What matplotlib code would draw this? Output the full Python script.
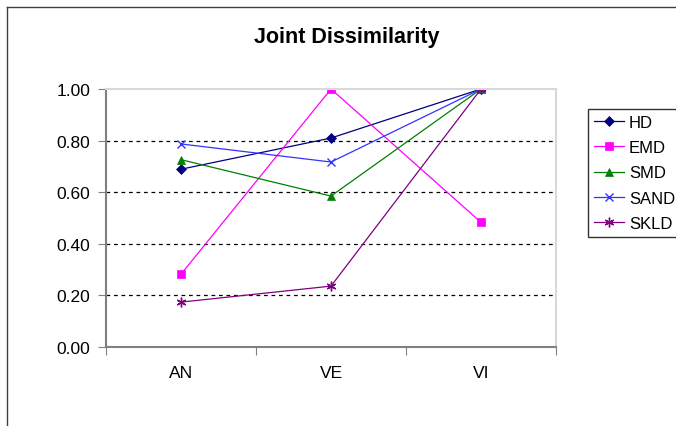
import numpy as np
import matplotlib.pyplot as plt
from matplotlib.lines import Line2D

plt.rcParams['font.family'] = ['Liberation Sans', 'DejaVu Sans']

categories = ["AN", "VE", "VI"]
hd = [0.689, 0.810, 1.00]
emd = [0.282, 1.00, 0.483]
smd = [0.726, 0.585, 1.00]
sand = [0.787, 0.717, 1.00]
skld = [0.174, 0.236, 1.00]

series = [
    ("HD", hd, "#000080", "D", 5),
    ("EMD", emd, "#FF00FF", "s", 6),
    ("SMD", smd, "#008000", "^", 6),
    ("SAND", sand, "#3333FF", "x", 6),
    ("SKLD", skld, "#800080", (6, 2, 0), 7),
]

fig = plt.figure(figsize=(6.76, 4.27), dpi=100)
W, H = 676, 427

# outer chart border (only left and top visible)
fig.add_artist(Line2D([7 / W, 7 / W], [0, 1 - 8 / H], color="#404040", lw=1))
fig.add_artist(Line2D([7 / W, 1], [1 - 8 / H, 1 - 8 / H], color="#404040", lw=1))

ax = fig.add_axes([106 / W, 1 - 348 / H, 450 / W, 258 / H])
x = np.arange(len(categories)) + 0.5

for name, vals, col, mk, ms in series:
    ax.plot(x, vals, color=col, marker=mk, markersize=ms, lw=0.9,
            markeredgewidth=1 if mk == "x" or isinstance(mk, tuple) else 0.5,
            label=name)

ax.set_xlim(0, 3)
ax.set_ylim(0, 1)
ax.set_yticks(np.arange(0, 1.01, 0.2))
ax.set_yticklabels([f"{v:.2f}" for v in np.arange(0, 1.01, 0.2)], fontsize=12.5)
ax.set_xticks([0, 1, 2, 3])
ax.set_xticklabels([])
ax.set_xticks(x, minor=True)
ax.set_xticklabels(categories, minor=True, fontsize=12.5)
ax.tick_params(axis="x", which="minor", length=0, pad=13)
ax.tick_params(axis="x", which="major", length=6, color="#808080", direction="out")
ax.tick_params(axis="y", length=6, color="#808080", direction="out", pad=5.5)

for yv in [0.2, 0.4, 0.6, 0.8]:
    ax.axhline(yv, color="black", lw=0.9, ls=(0, (3, 3)), zorder=0)

ax.spines["left"].set_color("#808080")
ax.spines["bottom"].set_color("#808080")
ax.spines["left"].set_linewidth(1.5)
ax.spines["bottom"].set_linewidth(1.5)
ax.spines["top"].set_color("#d9d9d9")
ax.spines["right"].set_color("#d9d9d9")
ax.spines["top"].set_linewidth(1.5)
ax.spines["right"].set_linewidth(1.5)

fig.text(347 / W, 1 - 37 / H, "Joint Dissimilarity", ha="center", va="center",
         fontsize=15.5, fontweight="bold")

leg = fig.legend(loc="upper left", bbox_to_anchor=(588 / W, 1 - 110 / H),
                 fontsize=12, frameon=True, fancybox=False, handlelength=1.8,
                 handletextpad=0.3, borderpad=0.35, labelspacing=0.62,
                 borderaxespad=0)
leg.get_frame().set_edgecolor("black")
leg.get_frame().set_linewidth(1)

fig.savefig("out.png", dpi=100)
